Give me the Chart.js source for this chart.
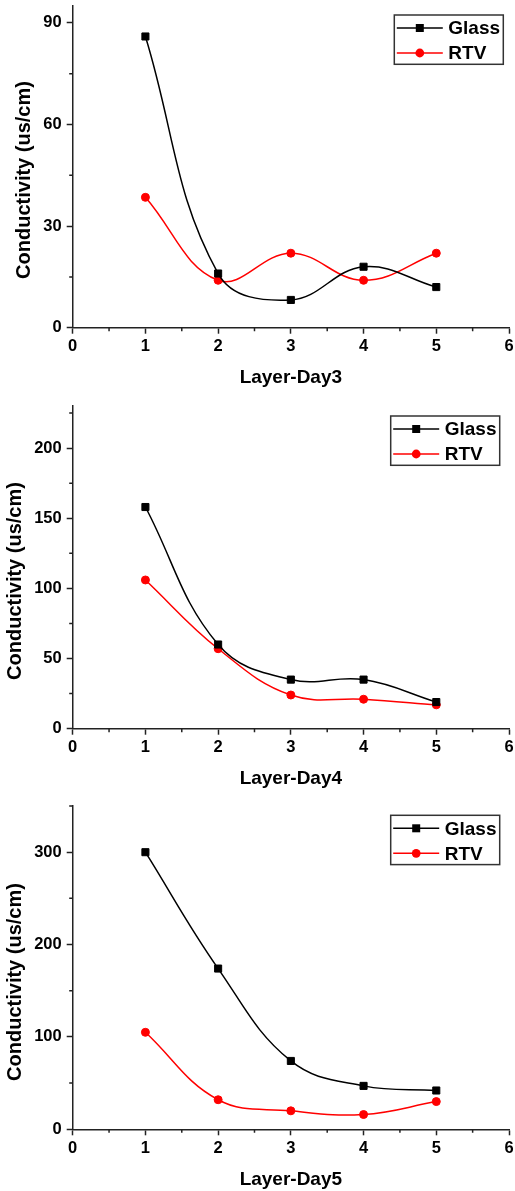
<!DOCTYPE html>
<html>
<head>
<meta charset="utf-8">
<script src="https://cdn.jsdelivr.net/npm/chart.js@4.4.1/dist/chart.umd.min.js"></script>
<style>
html, body { margin:0; padding:0; background:#fff; width:515px; height:1191px; overflow:hidden; }
canvas { position:absolute; left:0; }
</style>
</head>
<body>
<canvas id="day3" width="515" height="400" style="top:0px"></canvas>
<canvas id="day4" width="515" height="400" style="top:400px"></canvas>
<canvas id="day5" width="515" height="400" style="top:800px"></canvas>
<script>
// data
const layers = [1, 2, 3, 4, 5];
const xTickValues = [0, 1, 2, 3, 4, 5, 6];

const glassDay3 = [86, 16, 8.2, 18, 12];
const rtvDay3   = [38.5, 14, 22, 14, 22];

const glassDay4 = [158, 60, 35, 35, 19];
const rtvDay4   = [106, 57, 24, 21, 17];

const glassDay5 = [300, 174, 74, 47, 42];
const rtvDay5   = [105, 32, 20, 16, 30];

const seriesNames = ['Glass', 'RTV'];
const yTitle = 'Conductivity (us/cm)';

const FONT = "'Liberation Sans', Arial, sans-serif";
const AXIS = '#222';

function pts(ys)
{
    return layers.map((x, i) => ({x: x, y: ys[i]}));
}

// minor ticks, y title and boxed legend
const extras = {
    id: 'extras',
    afterDraw(chart, args, o) {
        const ctx = chart.ctx;
        const a = chart.chartArea;
        const xs = chart.scales.x, ys = chart.scales.y;
        ctx.save();
        ctx.strokeStyle = AXIS;
        ctx.lineWidth = 1.5;
        ctx.beginPath();
        for (let v = xs.min; v <= xs.max + 1e-9; v += 0.5) {
            if (Math.abs(v - Math.round(v)) < 1e-9) continue;
            const px = xs.getPixelForValue(v);
            ctx.moveTo(px, a.bottom);
            ctx.lineTo(px, a.bottom + 3.5);
        }
        for (let v = 0; v <= ys.max + 1e-9; v += o.minor) {
            if (Math.abs(v % o.major) < 1e-9) continue;
            const py = ys.getPixelForValue(v);
            ctx.moveTo(a.left, py);
            ctx.lineTo(a.left - 3.5, py);
        }
        ctx.stroke();

        // y title
        ctx.save();
        ctx.translate(o.titleX, o.titleY);
        ctx.rotate(-Math.PI / 2);
        ctx.font = 'bold 20px ' + FONT;
        ctx.fillStyle = '#000';
        ctx.textAlign = 'center';
        ctx.textBaseline = 'middle';
        ctx.fillText(yTitle, 0, 0);
        ctx.restore();

        // legend
        const bx = a.right - o.legRight - 109, by = a.top + o.legTop;
        ctx.strokeStyle = '#333';
        ctx.lineWidth = 1.5;
        ctx.strokeRect(bx, by, 109, 49.3);
        chart.data.datasets.forEach((ds, i) => {
            const cy = by + 13 + i * 25;
            ctx.strokeStyle = ds.borderColor;
            ctx.fillStyle = ds.borderColor;
            ctx.lineWidth = ds.borderWidth;
            ctx.beginPath();
            ctx.moveTo(bx + 2.5, cy);
            ctx.lineTo(bx + 48.5, cy);
            ctx.stroke();
            if (ds.pointStyle == 'rect') ctx.fillRect(bx + 25.5 - 4, cy - 4, 8, 8);
            else { ctx.beginPath(); ctx.arc(bx + 25.5, cy, 4.4, 0, Math.PI * 2); ctx.fill(); }
            ctx.fillStyle = '#000';
            ctx.font = 'bold 19px ' + FONT;
            ctx.textAlign = 'left';
            ctx.textBaseline = 'middle';
            ctx.fillText(ds.label, bx + 54, cy + 1);
        });
        ctx.restore();
    }
};

function makeChart(id, glass, rtv, xTitle, yMax, yStep, yMinor, cfg)
{
    const ctx = document.getElementById(id);
    return new Chart(ctx, {
        type: 'line',
        data: {
            datasets: [
                {
                    label: seriesNames[0],
                    data: pts(glass),
                    borderColor: '#000',
                    backgroundColor: '#000',
                    borderWidth: 1.5,
                    pointStyle: 'rect',
                    pointRadius: 5,
                    pointBorderWidth: 1,
                    tension: 0.4
                },
                {
                    label: seriesNames[1],
                    data: pts(rtv),
                    borderColor: '#ff0000',
                    backgroundColor: '#ff0000',
                    borderWidth: 1.5,
                    pointStyle: 'circle',
                    pointRadius: 4,
                    pointBorderWidth: 1,
                    tension: 0.4
                }
            ]
        },
        options: {
            responsive: false,
            animation: false,
            events: [],
            layout: { padding: { top: cfg.padTop, right: 5, bottom: cfg.padBottom, left: 0 } },
            plugins: {
                legend: { display: false },
                tooltip: { enabled: false },
                extras: {
                    major: yStep, minor: yMinor,
                    titleX: cfg.titleX, titleY: cfg.titleY,
                    legRight: cfg.legRight, legTop: cfg.legTop
                }
            },
            scales: {
                x: {
                    type: 'linear',
                    min: 0, max: 6,
                    afterBuildTicks: s => { s.ticks = xTickValues.map(v => ({value: v})); },
                    afterFit: s => { s.height = 63; s.paddingLeft = 0; s.paddingRight = 0; },
                    border: { color: AXIS, width: 1.5 },
                    grid: { drawOnChartArea: false, drawTicks: true, tickLength: 6, tickColor: AXIS, tickWidth: 1.5 },
                    ticks: { color: '#000', padding: 3, font: { family: FONT, size: 16.5, weight: 'bold' } },
                    title: {
                        display: true, text: xTitle, color: '#000',
                        font: { family: FONT, size: 19, weight: 'bold' },
                        padding: { top: 0, bottom: 1.6 }
                    }
                },
                y: {
                    min: 0, max: yMax,
                    afterFit: s => { s.width = 72.7; s.paddingTop = 0; s.paddingBottom = 0; },
                    border: { color: AXIS, width: 1.5 },
                    grid: { drawOnChartArea: false, drawTicks: true, tickLength: 6, tickColor: AXIS, tickWidth: 1.5 },
                    ticks: { stepSize: yStep, includeBounds: false, color: '#000', padding: 5,
                             font: { family: FONT, size: 16.5, weight: 'bold' } }
                }
            }
        },
        plugins: [extras]
    });
}

makeChart('day3', glassDay3, rtvDay3, 'Layer-Day3', 95, 30, 15,
    { padTop: 5, padBottom: 9.3, titleX: 24, titleY: 180, legRight: 5.7, legTop: 9 });
makeChart('day4', glassDay4, rtvDay4, 'Layer-Day4', 230, 50, 25,
    { padTop: 5, padBottom: 8.3, titleX: 15.5, titleY: 181, legRight: 9.3, legTop: 10 });
makeChart('day5', glassDay5, rtvDay5, 'Layer-Day5', 350, 100, 50,
    { padTop: 5.7, padBottom: 7.7, titleX: 15.5, titleY: 182, legRight: 9.3, legTop: 9.3 });
</script>
</body>
</html>
